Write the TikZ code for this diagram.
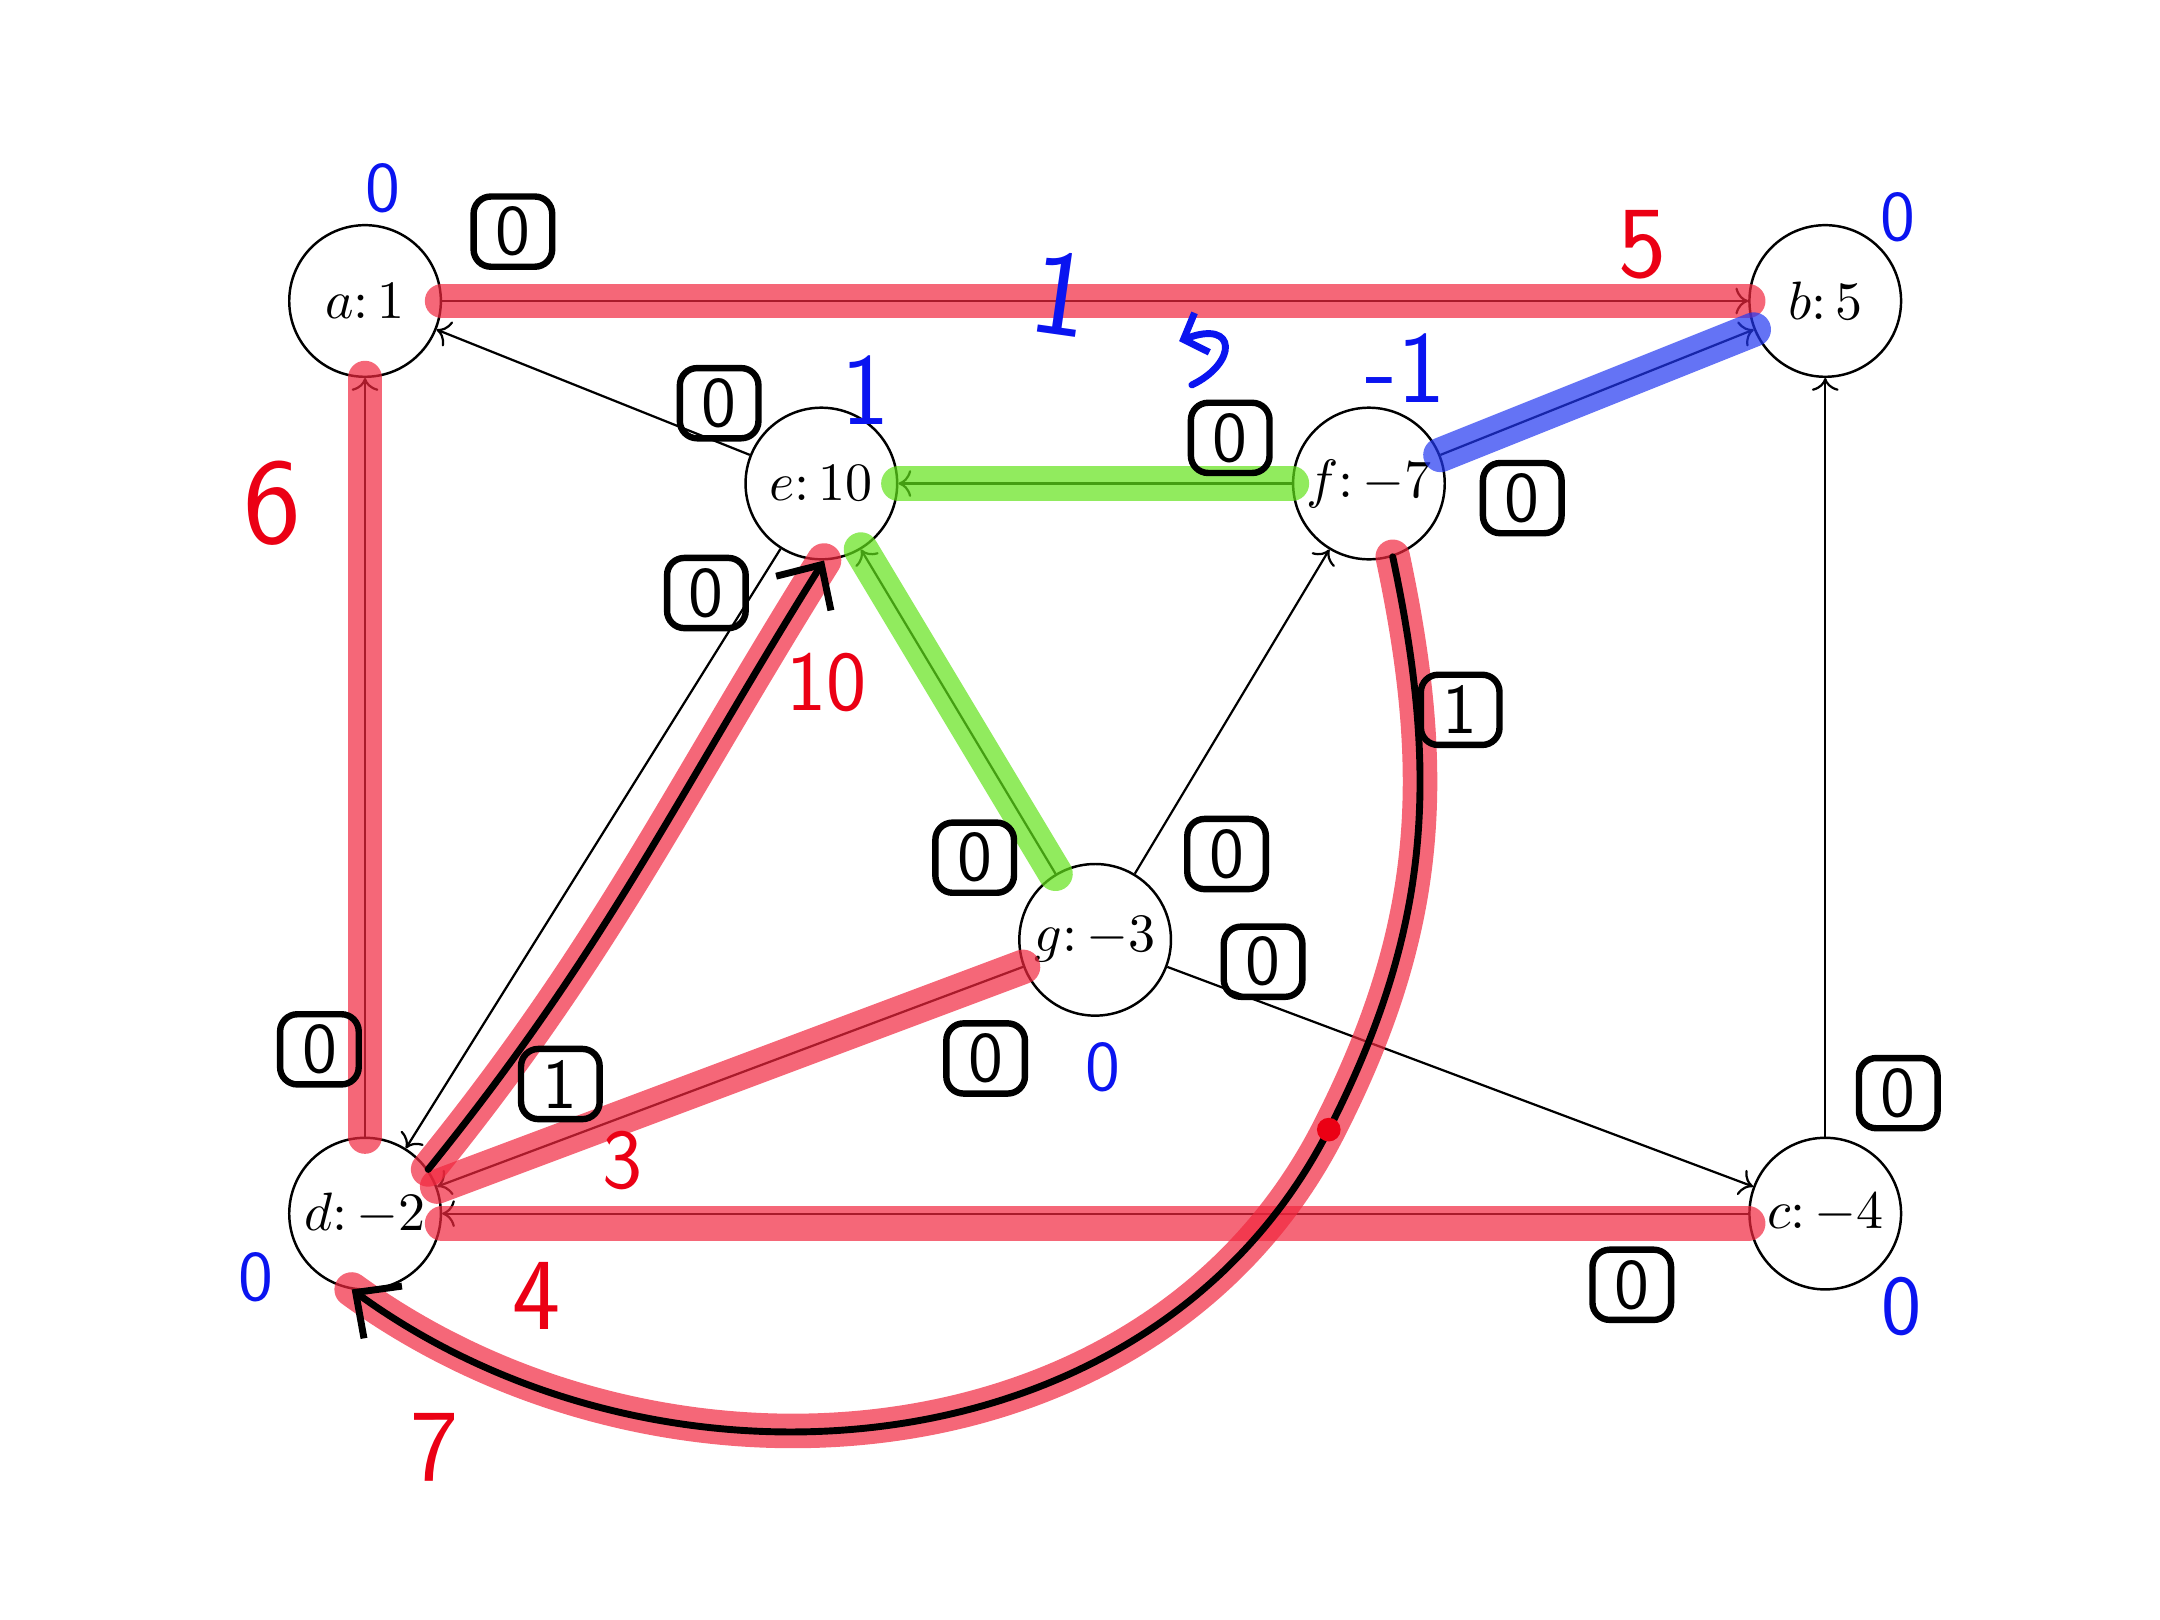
\documentclass[tikz,border=0pt]{standalone}
\usepackage{amsmath, amssymb}
\usepackage{tikz}
\usetikzlibrary{arrows.meta}
\definecolor{hlred}{RGB}{241,39,62}
\definecolor{hlgreen}{RGB}{98,226,26}
\definecolor{hlblue}{RGB}{34,55,241}
\definecolor{penblue}{RGB}{10,20,240}
\definecolor{penred}{RGB}{235,0,20}

\begin{document}
\begin{tikzpicture}[x=1.3cm, y=1.3cm,
                vertex/.style={draw, circle, minimum size=1.08cm, inner sep=0pt, line width=0.5pt, font=\fontsize{10.8}{12}\selectfont},
                edge/.style={->, line width=0.45pt},
                marker/.style={line width=7pt, line cap=round, opacity=0.7},
                pen/.style={line width=1.4pt, line cap=round, -{Straight Barb[length=2.4mm, width=4.6mm]}},
                pot/.style={text=penblue, font=\sffamily\Large, inner sep=0pt},
                cost/.style={text=penred, font=\sffamily\LARGE, inner sep=0pt},
                flow/.style={draw, line width=1.3pt, rounded corners=3.5pt, inner sep=1pt, minimum width=0.56cm, minimum height=0.5cm, font=\sffamily\Large}]
                \useasboundingbox (-2,-2.226) rectangle (9.834,6.649);
                \node[vertex] (A) at (0,5) {$a{:}\,1$};
                \node[vertex] (B) at (8,5) {$b{:}\,5$};
                \node[vertex] (E) at (2.5,4) {$e{:}\,10$};
                \node[vertex] (F) at (5.5,4) {$f{:}\,{-}7$};
                \node[vertex] (G) at (4,1.5) {$g{:}\,{-}3$};
                \node[vertex] (D) at (0,0) {$d{:}\,{-}2$};
                \node[vertex] (C) at (8,0) {$c{:}\,{-}4$};
                \coordinate (P) at (5.28,0.46);
                \draw[edge] (A) -- (B);
                \draw[edge] (E) -- (A);
                \draw[edge] (F) -- (E);
                \draw[edge] (F) -- (B);
                \draw[edge] (E) -- (D);
                \draw[edge] (G) -- (E);
                \draw[edge] (G) -- (F);
                \draw[edge] (G) -- (D);
                \draw[edge] (G) -- (C);
                \draw[edge] (C) -- (D);
                \draw[edge] (C) -- (B);
                \draw[edge] (D) -- (A);
                \draw[marker, hlred] (A) -- (B);
                \draw[marker, hlred] (D) -- (A);
                \draw[marker, hlred] (G) -- (D);
                \draw[marker, hlred] ([yshift=-2pt]C.west) -- ([yshift=-2pt]D.east);
                \draw[marker, hlgreen] (F) -- (E);
                \draw[marker, hlgreen] (G) -- (E);
                \draw[marker, hlblue] (F) -- (B);
                \draw[marker, hlred] (D.35) to[out=51, in=-122] (E.-88);
                \draw[marker, hlred] (F.-72) to[out=-78, in=63] (P) to[out=-117, in=-36] (D.-100);
                \draw[pen] (D.35) to[out=51, in=-122] (E.-88);
                \draw[pen] (F.-72) to[out=-78, in=63] (P) to[out=-117, in=-36] (D.-100);
                \fill[penred] (P) circle (2.4pt);
                \node[pot] (pA) at (0.10,5.62) {0};
                \node[pot] (pB) at (8.40,5.46) {0};
                \node[pot, font=\sffamily\huge] (pE) at (2.74,4.51) {1};
                \node[pot, font=\sffamily\huge] (pF) at (5.70,4.63) {-1};
                \node[pot] (pG) at (4.04,0.80) {0};
                \node[pot] (pD) at (-0.60,-0.35) {0};
                \node[pot, font=\sffamily\LARGE] (pC) at (8.42,-0.51) {0};
                \node[pot, font=\sffamily\Huge, rotate=-8] (pAB) at (3.81,5.04) {1};
                \draw[penblue, line width=1.4pt, line cap=round, -{Straight Barb[length=1.4mm, width=3mm]}] (4.53,4.54) .. controls (4.78,4.66) and (4.78,4.90) .. (4.46,4.78);
                \node[cost, font=\sffamily\Huge] (cDA) at (-0.51,3.89) {6};
                \node[cost, font=\sffamily\huge] (cAB) at (7.00,5.31) {5};
                \node[cost] (cDE) at (2.53,2.91) {10};
                \node[cost] (cGD) at (1.41,0.29) {3};
                \node[cost, font=\sffamily\huge] (cCD) at (0.94,-0.45) {4};
                \node[cost, font=\sffamily\huge] (cFD) at (0.38,-1.28) {7};
                \node[flow] (fA) at (0.81,5.38) {0};
                \node[flow] (fEA) at (1.94,4.44) {0};
                \node[flow] (fFE) at (4.74,4.25) {0};
                \node[flow] (fF) at (6.34,3.92) {0};
                \node[flow] (fED) at (1.87,3.40) {0};
                \node[flow] (fFD) at (6.00,2.76) {1};
                \node[flow] (fGE) at (3.34,1.95) {0};
                \node[flow] (fGF) at (4.72,1.97) {0};
                \node[flow] (fGC) at (4.92,1.38) {0};
                \node[flow] (fGD) at (3.40,0.85) {0};
                \node[flow] (fDA) at (-0.25,0.90) {0};
                \node[flow] (fDE) at (1.07,0.71) {1};
                \node[flow] (fCB) at (8.40,0.66) {0};
                \node[flow] (fCD) at (6.94,-0.39) {0};
            \end{tikzpicture}
\end{document}
